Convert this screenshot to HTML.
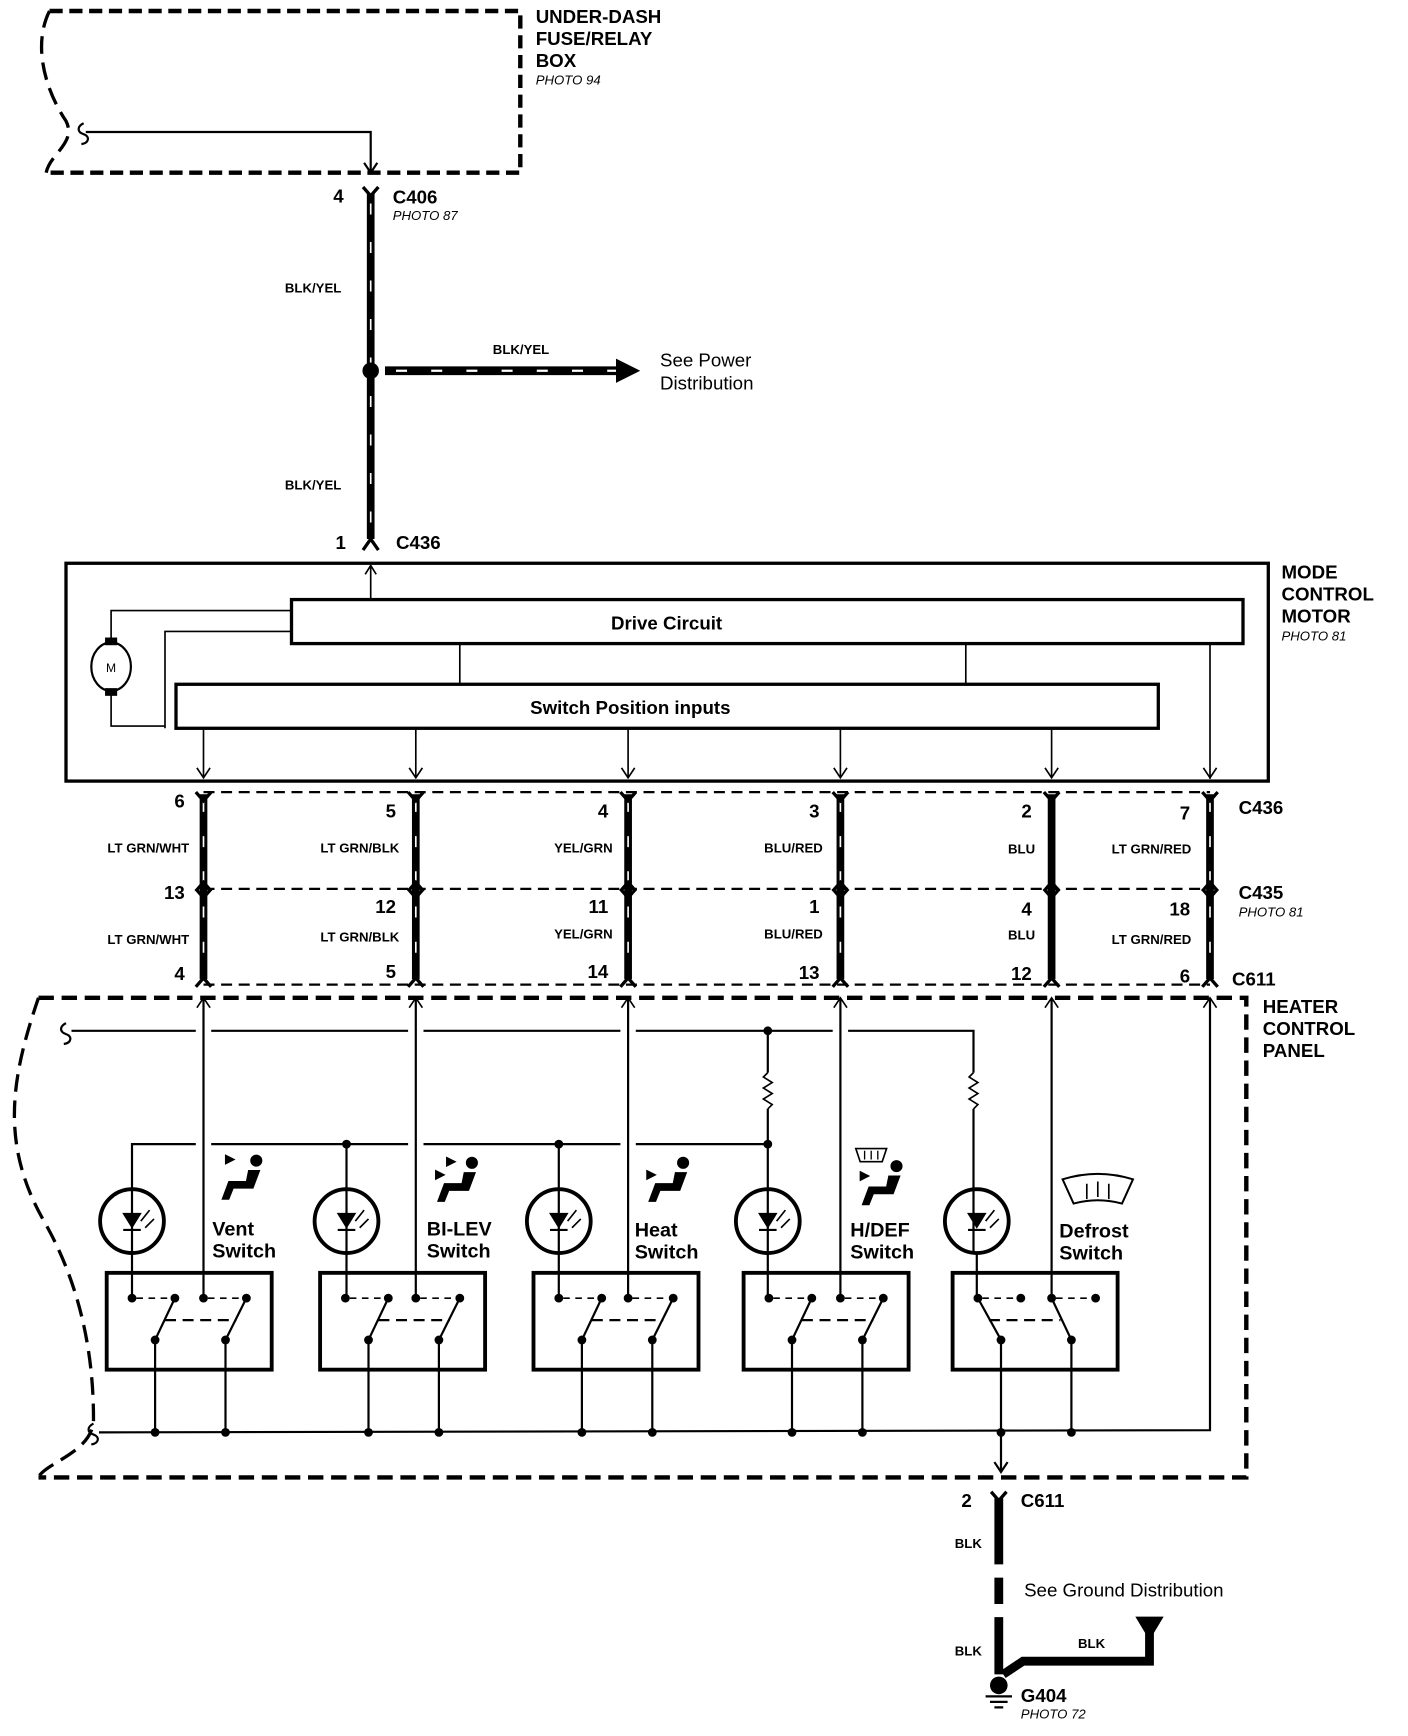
<!DOCTYPE html>
<html><head><meta charset="utf-8"><style>
html,body{margin:0;padding:0;background:#fff;}
svg{display:block;}
text{font-family:"Liberation Sans",Arial,sans-serif;fill:#000;}
.b{font-weight:bold;}
.it{font-style:italic;font-size:12px;}
</style></head><body>
<svg id="s" width="1408" height="1736" viewBox="0 0 1280 1578" preserveAspectRatio="none" xmlns="http://www.w3.org/2000/svg">
<g fill="none" stroke="#000">
<path d="M45,10 L473,10 L473,157 L42,157" stroke-width="4" stroke-dasharray="12,6"/>
<path d="M45,10 C30,40 40,80 60,110 C70,130 45,140 42,157" stroke-width="3" stroke-dasharray="16,8"/>
<path d="M76,112 c-6,3 -6,8 0,10 c6,2 5,8 -2,9" stroke-width="2"/>
<path d="M78,120 L337,120 L337,157" stroke-width="2"/>
<path d="M331,148 L337,157 L343,148" stroke-width="2"/>
<path d="M330,170 L337,178 L344,170" stroke-width="3"/>
<path d="M337,176 L337,490" stroke-width="7"/>
<path d="M337,185 L337,490" stroke="#fff" stroke-width="1.5" stroke-dasharray="10,25"/>
<circle cx="337" cy="337" r="7" fill="#000"/>
<path d="M350,337 L565,337" stroke-width="8"/>
<path d="M360,337 L565,337" stroke="#fff" stroke-width="2" stroke-dasharray="10,22"/>
<path d="M560,326 L582,337 L560,348 Z" fill="#000" stroke="none"/>
<path d="M330,500 L337,490 L344,500" stroke-width="3"/>
<rect x="60" y="512" width="1093" height="198" stroke-width="3"/>
<path d="M337,545 L337,514 M332,522 L337,514 L342,522" stroke-width="1.5"/>
<rect x="265" y="545" width="865" height="40" stroke-width="3"/>
<rect x="160" y="622" width="893" height="40" stroke-width="3"/>
<ellipse cx="101" cy="606" rx="18" ry="22" stroke-width="2"/>
<rect x="96" y="580" width="10" height="6" fill="#000"/>
<rect x="96" y="626" width="10" height="6" fill="#000"/>
<path d="M101,580 L101,555 L265,555 M150,662 L150,574 L265,574 M101,632 L101,660 L150,660" stroke-width="1.5"/>
<path d="M418,585 L418,622 M878,585 L878,622 M1100,585 L1100,708" stroke-width="1.5"/>
<path d="M35,907 L1133,907 L1133,1343 L35,1343" stroke-width="4" stroke-dasharray="14,7"/>
<path d="M35,907 C10,980 0,1040 40,1110 C80,1180 85,1250 85,1290 C85,1320 40,1330 35,1343" stroke-width="3" stroke-dasharray="16,8"/>
</g>
<g id="dyn" fill="none" stroke="#000"></g>
<g class="b" font-size="17">
<text x="487" y="21">UNDER-DASH</text><text x="487" y="41">FUSE/RELAY</text><text x="487" y="61">BOX</text>
<text x="357" y="185">C406</text><text x="303" y="184">4</text>
<text x="305" y="499">1</text><text x="360" y="499">C436</text>
<text x="1165" y="526">MODE</text><text x="1165" y="546">CONTROL</text><text x="1165" y="566">MOTOR</text>
<text x="1126" y="740">C436</text><text x="1126" y="817">C435</text><text x="1120" y="896">C611</text>
<text x="1148" y="921">HEATER</text><text x="1148" y="941">CONTROL</text><text x="1148" y="961">PANEL</text>
<text x="928" y="1370">C611</text><text x="874" y="1370">2</text>
<text x="928" y="1547">G404</text>
</g>
<g class="it">
<text x="487" y="77">PHOTO 94</text><text x="357" y="200">PHOTO 87</text>
<text x="1165" y="582">PHOTO 81</text><text x="1126" y="833">PHOTO 81</text><text x="928" y="1562">PHOTO 72</text>
</g>
<g class="b" font-size="12">
<text x="259" y="266">BLK/YEL</text><text x="259" y="445">BLK/YEL</text><text x="448" y="322">BLK/YEL</text>
<text x="868" y="1407">BLK</text><text x="868" y="1505">BLK</text><text x="980" y="1498">BLK</text>
</g>
<g font-size="17">
<text x="600" y="333">See Power</text><text x="600" y="354">Distribution</text>
<text x="931" y="1451">See Ground Distribution</text>
</g>
<g class="b" font-size="17" text-anchor="middle">
<text x="606" y="572">Drive Circuit</text><text x="573" y="649">Switch Position inputs</text>
</g>
<text x="101" y="611" font-size="11" text-anchor="middle">M</text>
<g class="b" font-size="17" text-anchor="end">
<text x="168" y="734">6</text><text x="360" y="743">5</text><text x="553" y="743">4</text><text x="745" y="743">3</text><text x="938" y="743">2</text><text x="1082" y="745">7</text>
<text x="168" y="817">13</text><text x="360" y="830">12</text><text x="553" y="830">11</text><text x="745" y="830">1</text><text x="938" y="832">4</text><text x="1082" y="832">18</text>
<text x="168" y="891">4</text><text x="360" y="889">5</text><text x="553" y="889">14</text><text x="745" y="890">13</text><text x="938" y="891">12</text><text x="1082" y="893">6</text>
</g>
<g class="b" font-size="12" text-anchor="end">
<text x="172" y="775">LT GRN/WHT</text><text x="363" y="775">LT GRN/BLK</text><text x="557" y="775">YEL/GRN</text><text x="748" y="775">BLU/RED</text><text x="941" y="776">BLU</text><text x="1083" y="776">LT GRN/RED</text>
<text x="172" y="858">LT GRN/WHT</text><text x="363" y="856">LT GRN/BLK</text><text x="557" y="853">YEL/GRN</text><text x="748" y="853">BLU/RED</text><text x="941" y="854">BLU</text><text x="1083" y="858">LT GRN/RED</text>
</g>
<g class="b" font-size="18">
<text x="193" y="1123">Vent</text><text x="193" y="1143">Switch</text>
<text x="388" y="1123">BI-LEV</text><text x="388" y="1143">Switch</text>
<text x="577" y="1124">Heat</text><text x="577" y="1144">Switch</text>
<text x="773" y="1124">H/DEF</text><text x="773" y="1144">Switch</text>
<text x="963" y="1125">Defrost</text><text x="963" y="1145">Switch</text>
</g>
</svg>
<script>
var g=document.getElementById('dyn'),h='';
function L(d,w,extra){h+='<path d="'+d+'" stroke-width="'+w+'" '+(extra||'')+'/>';}
function C(x,y,r){h+='<circle cx="'+x+'" cy="'+y+'" r="'+r+'" fill="#000" stroke="none"/>';}
var cols=[185,378,571,764,956,1100];
cols.forEach(function(x,i){
 if(i<5)L('M'+x+',662 L'+x+',707',1.5);
 L('M'+(x-6)+',698 L'+x+',707 L'+(x+6)+',698',1.5);
 L('M'+x+',722 L'+x+',890',7);
 if(i!=4)L('M'+x+',728 L'+x+',888',1.5,'stroke="#fff" stroke-dasharray="10,22"');
 [720,808].forEach(function(y){L('M'+(x-7)+','+y+' L'+x+','+(y+8)+' L'+(x+7)+','+y,3);});
 [808,895].forEach(function(y){L('M'+(x-7)+','+(y+2)+' L'+x+','+(y-6)+' L'+(x+7)+','+(y+2),3);});
 L('M'+(x-6)+',916 L'+x+',907 L'+(x+6)+',916',1.5);
});
L('M185,720 L1100,720',2,'stroke-dasharray="10,6"');
L('M185,808 L1100,808',2,'stroke-dasharray="10,6"');
L('M185,895 L1100,895',2,'stroke-dasharray="10,6"');
L('M60,930 c-6,3 -6,8 0,10 c6,2 5,8 -2,9',2);
L('M85,1294 c-6,3 -6,8 0,10 c6,2 5,8 -2,9',2);
L('M65,937 L178,937 M192,937 L371,937 M385,937 L564,937 M578,937 L757,937 M771,937 L885,937 L885,975',2);
C(698,937,4);
L('M698,937 L698,975',2);
function R(x,y){L('M'+x+','+y+' l-4,4 l8,5 l-8,5 l8,5 l-8,5 l8,5 l-4,4',1.5);}
R(698,975);R(885,975);
L('M698,1008 L698,1040 M885,1008 L885,1081',2);
L('M120,1081 L120,1040 L178,1040 M192,1040 L371,1040 M385,1040 L564,1040 M578,1040 L698,1040',2);
C(315,1040,4);C(508,1040,4);C(698,1040,4);
var leds=[120,315,508,698,888];
var boxes=[97,291,485,676,866];
leds.forEach(function(x,i){
 if(i>0&&i<4)L('M'+x+',1040 L'+x+',1180',2); else L('M'+x+',1139 L'+x+',1180',2);
 if(i==0)L('M'+x+',1081 L'+x+',1139',2);
 if(i==4)L('M885,1081 L885,1139',2);
 h+='<circle cx="'+x+'" cy="1110" r="29" stroke-width="3.5" fill="none"/>';
 h+='<path d="M'+(x-8)+',1103 L'+(x+8)+',1103 L'+x+',1116 Z" fill="#000"/>';
 L('M'+(x-8)+',1118 L'+(x+8)+',1118',2);
 L('M'+(x+8)+',1110 L'+(x+16)+',1100 M'+(x+12)+',1116 L'+(x+20)+',1108',1.5);
 var b=boxes[i];
 h+='<rect x="'+b+'" y="1157" width="150" height="88" stroke-width="3.5" fill="none"/>';
 var c=cols[i];
 L('M'+c+',907 L'+c+',1180',2);
 if(i<4){
  C(b+23,1180,4);C(b+62,1180,4);C(c,1180,4);C(b+127,1180,4);
  L('M'+(b+27)+',1180 L'+(b+58)+',1180 M'+(c+4)+',1180 L'+(b+123)+',1180',1.5,'stroke-dasharray="6,5"');
  L('M'+(b+44)+',1218 L'+(b+62)+',1180 M'+(b+108)+',1218 L'+(b+127)+',1180',2);
  L('M'+(b+53)+',1200 L'+(b+118)+',1200',2,'stroke-dasharray="10,6"');
 } else {
  C(b+23,1180,4);C(b+62,1180,4);C(c,1180,4);C(b+130,1180,4);
  L('M'+(b+27)+',1180 L'+(b+58)+',1180 M'+(c+4)+',1180 L'+(b+126)+',1180',1.5,'stroke-dasharray="6,5"');
  L('M'+(b+44)+',1218 L'+(b+23)+',1180 M'+(b+108)+',1218 L'+c+',1180',2);
  L('M'+(b+33)+',1200 L'+(b+98)+',1200',2,'stroke-dasharray="10,6"');
 }
 C(b+44,1218,4);C(b+108,1218,4);
 L('M'+(b+44)+',1218 L'+(b+44)+',1302 M'+(b+108)+',1218 L'+(b+108)+',1302',2);
 C(b+44,1302,4);C(b+108,1302,4);
});
L('M1100,907 L1100,1300 L90,1302',2);
L('M910,1302 L910,1338 M904,1329 L910,1338 L916,1329',2);
L('M901,1356 L908,1364 L915,1356',3);
L('M908,1362 L908,1422 M908,1434 L908,1458 M908,1470 L908,1522',8);
L('M912,1522 L930,1510 L1045,1510 L1045,1484',8);
h+='<path d="M1033,1470 L1057,1470 L1045,1490 Z" fill="#000"/>';
C(908,1532,8);
L('M896,1542 L920,1542 M900,1547 L916,1547 M904,1552 L912,1552',2);
function seat(x,y,arrows){
 h+='<circle cx="'+(x+33)+'" cy="'+(y+5)+'" r="5" fill="#000"/>';
 h+='<path d="M'+(x+26)+','+(y+14)+' L'+(x+36)+','+(y+14)+' L'+(x+30)+','+(y+30)+' L'+(x+12)+','+(y+30)+' L'+(x+8)+','+(y+40)+' L'+(x+2)+','+(y+40)+' L'+(x+8)+','+(y+24)+' L'+(x+24)+','+(y+24)+' Z" fill="#000"/>';
 arrows.forEach(function(a){h+='<path d="M'+(x+a[0])+','+(y+a[1])+' l8,4 l-8,4 Z" fill="#000"/>';});
}
seat(200,1050,[[5,0]]);
seat(396,1052,[[10,0],[0,12]]);
seat(588,1052,[[0,12]]);
seat(782,1055,[[0,10]]);
h+='<path d="M778,1044 L806,1044 L802,1056 L782,1056 Z" stroke-width="1.5"/>';
L('M786,1054 l0,-8 M792,1054 l0,-8 M798,1054 l0,-8',1.2);
h+='<path d="M966,1072 Q998,1062 1030,1072 L1020,1094 Q998,1088 976,1094 Z" stroke-width="1.8"/>';
L('M988,1090 l0,-14 M998,1088 l0,-14 M1008,1090 l0,-14',1.5);
g.innerHTML=h;
</script>
</body></html>
